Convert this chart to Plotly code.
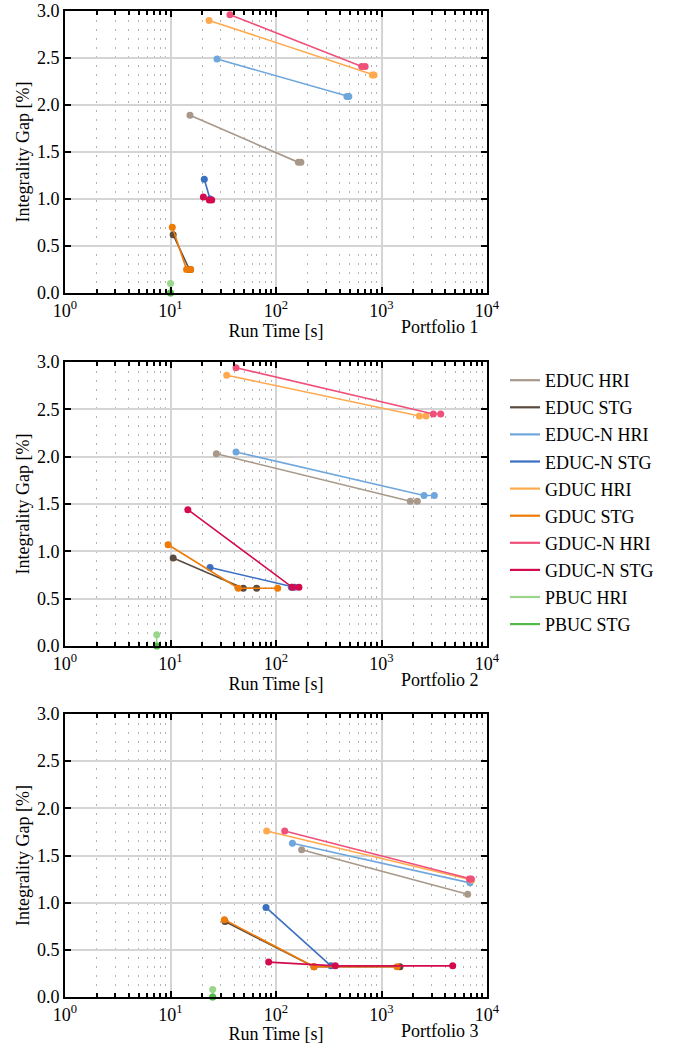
import plotly.graph_objects as go

# ---------------- data ----------------
series_names = ["EDUC HRI", "EDUC STG", "EDUC-N HRI", "EDUC-N STG", "GDUC HRI",
                "GDUC STG", "GDUC-N HRI", "GDUC-N STG", "PBUC HRI", "PBUC STG"]
series_colors = ["#a8988a", "#5b4a3e", "#6fa6dc", "#3a70c2", "#ffa94f",
                 "#f07a06", "#f04f7a", "#d40a4e", "#99d68c", "#52b84a"]

panel_labels = ["Portfolio 1", "Portfolio 2", "Portfolio 3"]
x_tick_vals = [1, 10, 100, 1000, 10000]
x_tick_text = ["10<sup>0</sup>", "10<sup>1</sup>", "10<sup>2</sup>", "10<sup>3</sup>", "10<sup>4</sup>"]
y_tick_vals = [0.0, 0.5, 1.0, 1.5, 2.0, 2.5, 3.0]
y_tick_text = ["0.0", "0.5", "1.0", "1.5", "2.0", "2.5", "3.0"]

# Portfolio 1 : run time [s], integrality gap [%]
p1_educ_hri_t = [15.3, 163, 172]
p1_educ_hri_g = [1.89, 1.39, 1.39]
p1_educ_stg_t = [10.6, 15.1, 15.5]
p1_educ_stg_g = [0.62, 0.25, 0.25]
p1_educn_hri_t = [27.6, 470, 490]
p1_educn_hri_g = [2.49, 2.09, 2.09]
p1_educn_stg_t = [20.9, 23.7]
p1_educn_stg_g = [1.21, 1.00]
p1_gduc_hri_t = [23.2, 820, 850]
p1_gduc_hri_g = [2.90, 2.32, 2.32]
p1_gduc_stg_t = [10.4, 14.2, 15.5]
p1_gduc_stg_g = [0.70, 0.25, 0.25]
p1_gducn_hri_t = [36.6, 650, 700]
p1_gducn_hri_g = [2.96, 2.41, 2.41]
p1_gducn_stg_t = [20.5, 23.3, 24.6]
p1_gducn_stg_g = [1.02, 0.99, 0.99]
p1_pbuc_hri_t = [10.0, 10.0]
p1_pbuc_hri_g = [0.10, 0.00]
p1_pbuc_stg_t = [10.0]
p1_pbuc_stg_g = [0.00]

# Portfolio 2
p2_educ_hri_t = [27.2, 1875, 2185]
p2_educ_hri_g = [2.03, 1.53, 1.53]
p2_educ_stg_t = [10.6, 49, 65.6]
p2_educ_stg_g = [0.93, 0.61, 0.61]
p2_educn_hri_t = [41.8, 2528, 3168]
p2_educn_hri_g = [2.05, 1.59, 1.59]
p2_educn_stg_t = [23.7, 140, 150]
p2_educn_stg_g = [0.83, 0.62, 0.62]
p2_gduc_hri_t = [34.1, 2284, 2642]
p2_gduc_hri_g = [2.86, 2.43, 2.43]
p2_gduc_stg_t = [9.5, 43.9, 103.7]
p2_gduc_stg_g = [1.07, 0.61, 0.61]
p2_gducn_hri_t = [41.8, 3098, 3641]
p2_gducn_hri_g = [2.94, 2.45, 2.45]
p2_gducn_stg_t = [14.6, 142.8, 165]
p2_gducn_stg_g = [1.44, 0.62, 0.62]
p2_pbuc_hri_t = [7.4, 7.4]
p2_pbuc_hri_g = [0.12, 0.00]
p2_pbuc_stg_t = [7.4]
p2_pbuc_stg_g = [0.00]

# Portfolio 3
p3_educ_hri_t = [175, 6560]
p3_educ_hri_g = [1.56, 1.09]
p3_educ_stg_t = [32.9, 229, 1497]
p3_educ_stg_g = [0.80, 0.32, 0.32]
p3_educn_hri_t = [143, 6900]
p3_educn_hri_g = [1.63, 1.21]
p3_educn_stg_t = [80.4, 332]
p3_educn_stg_g = [0.95, 0.33]
p3_gduc_hri_t = [81.6, 7160]
p3_gduc_hri_g = [1.76, 1.24]
p3_gduc_stg_t = [32.4, 229, 1403]
p3_gduc_stg_g = [0.82, 0.32, 0.32]
p3_gducn_hri_t = [121, 6810, 7100]
p3_gducn_hri_g = [1.76, 1.25, 1.25]
p3_gducn_stg_t = [85.2, 365, 4730]
p3_gducn_stg_g = [0.37, 0.33, 0.33]
p3_pbuc_hri_t = [25.1, 25.1]
p3_pbuc_hri_g = [0.08, 0.00]
p3_pbuc_stg_t = [25.1]
p3_pbuc_stg_g = [0.00]

panels = [
    [(p1_educ_hri_t, p1_educ_hri_g), (p1_educ_stg_t, p1_educ_stg_g),
     (p1_educn_hri_t, p1_educn_hri_g), (p1_educn_stg_t, p1_educn_stg_g),
     (p1_gduc_hri_t, p1_gduc_hri_g), (p1_gduc_stg_t, p1_gduc_stg_g),
     (p1_gducn_hri_t, p1_gducn_hri_g), (p1_gducn_stg_t, p1_gducn_stg_g),
     (p1_pbuc_hri_t, p1_pbuc_hri_g), (p1_pbuc_stg_t, p1_pbuc_stg_g)],
    [(p2_educ_hri_t, p2_educ_hri_g), (p2_educ_stg_t, p2_educ_stg_g),
     (p2_educn_hri_t, p2_educn_hri_g), (p2_educn_stg_t, p2_educn_stg_g),
     (p2_gduc_hri_t, p2_gduc_hri_g), (p2_gduc_stg_t, p2_gduc_stg_g),
     (p2_gducn_hri_t, p2_gducn_hri_g), (p2_gducn_stg_t, p2_gducn_stg_g),
     (p2_pbuc_hri_t, p2_pbuc_hri_g), (p2_pbuc_stg_t, p2_pbuc_stg_g)],
    [(p3_educ_hri_t, p3_educ_hri_g), (p3_educ_stg_t, p3_educ_stg_g),
     (p3_educn_hri_t, p3_educn_hri_g), (p3_educn_stg_t, p3_educn_stg_g),
     (p3_gduc_hri_t, p3_gduc_hri_g), (p3_gduc_stg_t, p3_gduc_stg_g),
     (p3_gducn_hri_t, p3_gducn_hri_g), (p3_gducn_stg_t, p3_gducn_stg_g),
     (p3_pbuc_hri_t, p3_pbuc_hri_g), (p3_pbuc_stg_t, p3_pbuc_stg_g)],
]

# ---------------- figure ----------------
FONT = "Liberation Serif, DejaVu Serif, serif"
FS = 18
W, H = 686, 1044
ML, MR, MT, MB = 65, 199, 11, 47
plot_h = H - MT - MB
# panel pixel extents (top, bottom) in page coordinates
panel_px = [(11, 293), (362, 646), (714, 997)]

fig = go.Figure()

for pi, series in enumerate(panels):
    ax = "" if pi == 0 else str(pi + 1)
    for si, (t, g) in enumerate(series):
        fig.add_trace(go.Scatter(
            x=t, y=g, mode="lines+markers",
            line=dict(color=series_colors[si], width=1.6),
            marker=dict(color=series_colors[si], size=7),
            xaxis="x" + ax, yaxis="y" + ax,
            showlegend=False, cliponaxis=False, hoverinfo="skip"))

# legend-only entries (line samples)
for si, name in enumerate(series_names):
    fig.add_trace(go.Scatter(
        x=[None], y=[None], mode="lines", name=name,
        line=dict(color=series_colors[si], width=2.2),
        xaxis="x2", yaxis="y2", legendgroup=name, showlegend=True))

for pi in range(3):
    ax = "" if pi == 0 else str(pi + 1)
    top, bot = panel_px[pi]
    d0 = (H - MB - bot) / plot_h
    d1 = (H - MB - top) / plot_h
    fig.layout["xaxis" + ax] = dict(
        type="log", range=[0, 4], domain=[0, 1], anchor="y" + ax,
        automargin=False,
        tickvals=x_tick_vals, ticktext=x_tick_text,
        ticks="inside", ticklen=6, tickwidth=1.5, tickcolor="black",
        showline=True, linecolor="black", linewidth=2, mirror="ticks",
        showgrid=True, gridcolor="#d4d4d4", gridwidth=2,
        minor=dict(ticks="inside", ticklen=4, tickwidth=1.5, tickcolor="black",
                   showgrid=True, gridcolor="#b4b4b4", gridwidth=1.2,
                   griddash="1.5px,7.5px", dtick="D1"),
        zeroline=False,
        tickfont=dict(family=FONT, size=FS, color="black"),
        title=dict(text="Run Time [s]", standoff=3,
                   font=dict(family=FONT, size=FS, color="black")),
    )
    fig.layout["yaxis" + ax] = dict(
        range=[0, 3], domain=[d0, d1], anchor="x" + ax,
        automargin=False,
        tickvals=y_tick_vals, ticktext=y_tick_text,
        ticks="inside", ticklen=6, tickwidth=1.5, tickcolor="black",
        showline=True, linecolor="black", linewidth=2, mirror="ticks",
        showgrid=True, gridcolor="#d4d4d4", gridwidth=2,
        zeroline=False,
        tickfont=dict(family=FONT, size=FS, color="black"),
        title=dict(text="Integrality Gap [%]", standoff=3,
                   font=dict(family=FONT, size=FS, color="black")),
    )
    fig.add_annotation(
        text=panel_labels[pi], xref="x" + ax + " domain", yref="y" + ax + " domain",
        x=1, y=0, xanchor="right", yanchor="middle", xshift=-6, yshift=-34,
        showarrow=False, font=dict(family=FONT, size=FS, color="black"))

fig.update_layout(
    width=W, height=H,
    margin=dict(l=ML, r=MR, t=MT, b=MB, pad=0, autoexpand=False),
    paper_bgcolor="white", plot_bgcolor="white",
    font=dict(family=FONT, size=FS, color="black"),
    legend=dict(xref="container", yref="container",
                x=505 / W, y=1 - 362 / H, xanchor="left", yanchor="top",
                bgcolor="rgba(0,0,0,0)", borderwidth=0,
                tracegroupgap=0.7, itemwidth=30,
                font=dict(family=FONT, size=FS, color="black")),
)

fig.write_html("out.html")
